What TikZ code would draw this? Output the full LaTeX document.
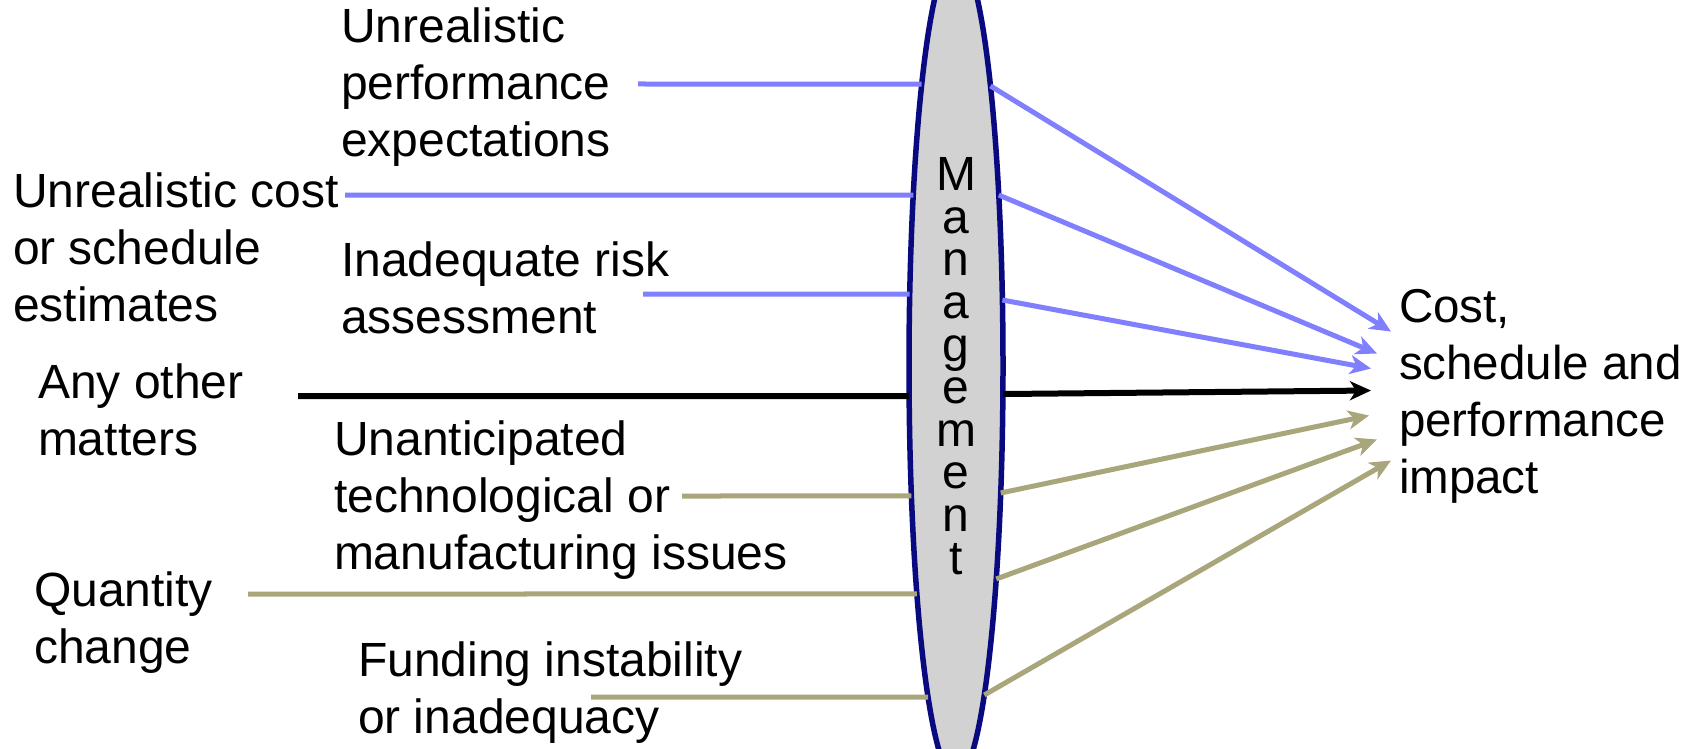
\documentclass[tikz,border=0pt]{standalone}
\usepackage{fontspec}
\setmainfont{Liberation Sans}
\usetikzlibrary{arrows.meta,shapes.geometric}
\definecolor{causeblue}{RGB}{128,128,255}
\definecolor{causeolive}{RGB}{168,166,122}
\definecolor{lensnavy}{RGB}{10,10,128}

\begin{document}
\begin{tikzpicture}[x=1pt,y=-1pt,
    every node/.style={inner sep=0pt,outer sep=0pt},
    cause/.style={anchor=north west,align=left,font=\fontsize{48}{57}\selectfont},
    feed/.style={line width=5pt},
    push/.style={line width=5pt,-{Stealth[length=21pt,width=19pt,inset=6pt]}}]
    \path[use as bounding box,fill=white] (0,0) rectangle (1691,749);

    \node[ellipse,draw=lensnavy,line width=5.5pt,minimum width=94pt,minimum height=824pt,
        left color=gray!35,middle color=gray!6,right color=gray!35,
        align=center,font=\fontsize{48}{42.6}\selectfont] (mgmt) at (956,366)
        {M\\a\\n\\a\\g\\e\\m\\e\\n\\t};

    \node[cause] (perf) at (341,8) {Unrealistic\\performance\\expectations};
    \node[cause] (estim) at (13,173) {Unrealistic cost\\or schedule\\estimates};
    \node[cause] (risk) at (341,242) {Inadequate risk\\assessment};
    \node[cause] (other) at (38,364) {Any other\\matters};
    \node[cause] (tech) at (334,421) {Unanticipated\\technological or\\manufacturing issues};
    \node[cause] (qty) at (34,572) {Quantity\\change};
    \node[cause] (fund) at (358,642) {Funding instability\\or inadequacy};
    \node[cause,font=\fontsize{47.5}{57}\selectfont] (impact) at (1399,289)
        {Cost,\\schedule and\\performance\\impact};

    % points on the rim of the lens (parametric angle)
    \foreach \n/\t in {perf/223.19,estim/204.52,risk/190.06,other/175.82,
        tech/161.61,qty/146.40,fund/126.54}
        \coordinate (\n-rim) at ([shift={(\t:47 and 412)}]mgmt.center);
    \foreach \n/\t in {b1/-42.82,b2/-24.52,b3/-9.22,k/3.90,o1/17.95,o2/31.13,o3/52.99}
        \coordinate (\n-out) at ([shift={(\t:47 and 412)}]mgmt.center);

    \coordinate (perf-in) at (638,84);
    \coordinate (estim-in) at (345,195);
    \coordinate (risk-in) at (643,294);
    \coordinate (other-in) at (298,396);
    \coordinate (tech-in) at (682,496);
    \coordinate (qty-in) at (248,594);
    \coordinate (fund-in) at (591,697);

    \draw[feed,causeblue] (perf-in) -- (perf-rim);
    \draw[feed,causeblue] (estim-in) -- (estim-rim);
    \draw[feed,causeblue] (risk-in) -- (risk-rim);
    \draw[feed,black,line width=6pt] (other-in) -- (other-rim);
    \draw[feed,causeolive] (tech-in) -- (tech-rim);
    \draw[feed,causeolive] (qty-in) -- (qty-rim);
    \draw[feed,causeolive] (fund-in) -- (fund-rim);

    \draw[push,causeblue] (b1-out) -- ([shift={(-8,-64.5)}]impact.west);
    \draw[push,causeblue] (b2-out) -- ([shift={(-22,-42.5)}]impact.west);
    \draw[push,causeblue] (b3-out) -- ([shift={(-28,-27.5)}]impact.west);
    \draw[push,black,line width=6pt] (k-out) -- ([shift={(-28,-5.5)}]impact.west);
    \draw[push,causeolive] (o1-out) -- ([shift={(-30,19.5)}]impact.west);
    \draw[push,causeolive] (o2-out) -- ([shift={(-22,43.5)}]impact.west);
    \draw[push,causeolive] (o3-out) -- ([shift={(-8,64.5)}]impact.west);
\end{tikzpicture}
\end{document}
